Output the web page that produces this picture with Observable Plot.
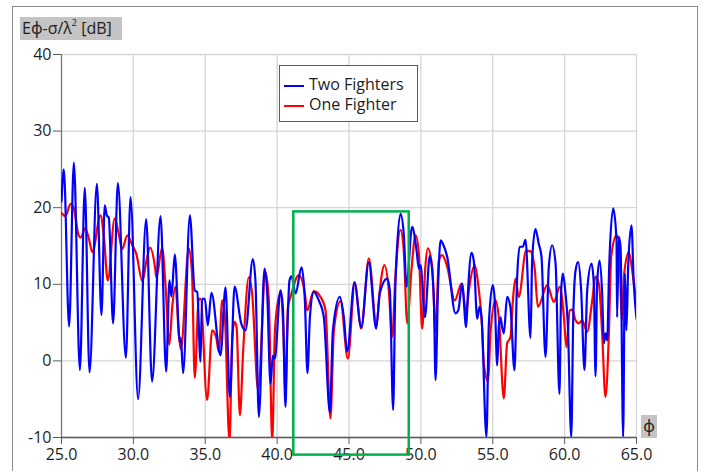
<!DOCTYPE html>
<html>
<head>
<meta charset="utf-8">
<script src="https://cdn.jsdelivr.net/npm/d3@7"></script>
<script src="https://cdn.jsdelivr.net/npm/@observablehq/plot@0.6"></script>
<style>
  html, body { margin: 0; padding: 0; background: #fff; }
  #wrap { position: relative; width: 705px; height: 471px; overflow: hidden; font-family: "Open Sans", "Noto Sans", sans-serif; color: #1e1e1e; }
  #frame { position: absolute; left: 12px; top: 6px; width: 686px; height: 490px; border: 1.5px solid #8a8a8a; box-sizing: border-box; pointer-events: none; }
  .axlab { position: absolute; background: #c4c4c4; font-size: 16px; line-height: 23px; color: #1e1e1e; white-space: nowrap; }
  #ylab { left: 20px; top: 17px; width: 102px; height: 23px; padding-left: 2px; box-sizing: border-box; }
  #ylab sup { font-size: 9px; vertical-align: 8px; line-height: 0; }
  #xlab { left: 641px; top: 415px; width: 16px; height: 23px; text-align: center; }
  #legend { position: absolute; left: 279px; top: 65px; width: 139px; height: 57px; border: 1px solid #5a5a5a; background: #fff; box-sizing: border-box; font-size: 16px; }
  .li { position: absolute; left: 0; height: 20px; line-height: 20px; white-space: nowrap; }
  .sw { position: absolute; left: 4px; top: 10px; width: 20px; height: 2px; }
  .lt { position: absolute; left: 29px; top: -1px; }
</style>
</head>
<body>
<div id="wrap">
  <div id="chart"></div>
  <div id="frame"></div>
  <div id="ylab" class="axlab"></div>
  <div id="xlab" class="axlab"></div>
  <div id="legend"></div>
</div>
<script>
// ---- data ----
const seriesNames = ["Two Fighters", "One Fighter"];
const seriesColors = ["#0000ff", "#ff0000"];
const yAxisTitle = "Eϕ-σ/λ";
const yAxisUnit = " [dB]";
const xAxisTitle = "ϕ";
const xTicks = [25, 30, 35, 40, 45, 50, 55, 60, 65];
const yTicks = [-10, 0, 10, 20, 30, 40];
const boxX = [41.16, 49.19];
const boxY = [-12.3, 19.45];

const blueX = [25.0,25.16,25.53,25.86,26.28,26.62,26.95,27.46,27.78,28.01,28.15,28.29,28.59,28.92,29.48,29.8,30.33,30.89,31.3,31.89,32.28,32.51,32.65,32.88,33.23,33.3,33.46,33.93,34.27,34.44,34.67,34.78,34.97,35.18,35.43,36.06,36.41,36.71,37.04,37.5,37.8,38.31,38.49,38.73,39.12,39.3,39.54,39.7,39.84,40.23,40.4,40.58,40.7,40.86,41.0,41.28,41.7,41.93,42.11,42.28,42.55,42.9,43.25,43.67,43.88,44.36,44.64,44.87,45.38,45.85,46.38,46.89,47.14,47.65,47.84,48.07,48.23,48.58,48.81,49.0,49.39,49.7,49.86,49.98,50.28,50.62,50.9,51.02,51.2,51.37,51.53,51.83,52.41,52.6,52.87,53.15,53.27,53.52,53.68,53.92,54.08,54.22,54.56,54.73,55.0,55.14,55.31,55.42,55.54,55.65,55.77,56.0,56.23,56.51,56.7,56.86,57.09,57.28,57.63,57.74,57.97,58.2,58.39,58.67,58.9,59.13,59.37,59.64,59.76,59.88,60.06,60.22,60.46,60.6,60.76,60.94,61.15,61.38,61.57,61.87,62.03,62.15,62.26,62.43,62.61,62.73,62.84,62.96,63.1,63.38,63.61,63.65,63.77,63.89,64.07,64.19,64.3,64.42,64.65,64.81,65.0];
const blueY = [20.8,25.0,4.5,25.9,-1.2,22.6,-1.5,23.1,6.0,20.3,19.0,18.7,4.9,23.2,0.4,21.4,-5.0,18.5,-2.7,18.9,-1.4,10.5,8.4,13.9,2.5,3.0,-1.6,19.0,9.2,9.0,-0.1,8.1,8.1,4.65,8.9,0.74,9.6,-4.7,9.7,4.9,4.0,13.3,10.5,-7.3,12.05,9.2,-3.0,0.7,0.3,9.2,7.0,-6.0,3.1,10.5,11.05,8.8,12.2,7.9,-1.6,5.7,9.0,7.9,5.7,-6.7,4.0,8.35,5.7,1.2,10.3,4.4,12.9,4.2,8.8,10.75,9.2,-6.4,10.1,19.2,16.6,9.7,17.5,14.4,12.05,12.5,5.7,13.7,8.35,-2.5,10.0,15.75,15.3,13.6,6.2,6.6,10.1,4.4,8.8,14.1,13.1,5.5,7.05,5.7,-9.9,4.9,9.9,7.9,-0.6,4.4,5.7,4.4,3.6,8.35,7.0,-1.2,11.0,14.9,14.9,15.8,3.0,13.1,17.2,15.3,13.6,0.52,12.3,15.1,12.7,-4.3,9.2,11.4,8.8,4.9,-9.9,5.7,11.8,12.9,9.2,-1.2,9.2,12.7,10.1,-2.0,10.1,13.1,8.8,2.3,3.6,2.7,12.3,19.9,15.75,5.7,16.2,14.9,-9.9,11.4,4.0,12.3,17.7,10.1,5.5];

const redX = [25.0,25.28,25.63,25.86,26.16,26.33,26.65,26.9,27.15,27.71,27.95,28.22,28.7,28.98,29.22,29.58,29.9,30.2,30.63,30.9,31.17,31.5,31.6,32.0,32.23,32.5,32.7,32.93,33.16,33.3,33.86,34.08,34.27,34.55,34.67,35.13,35.48,35.76,35.94,36.18,36.34,36.69,36.87,37.04,37.18,37.41,37.64,38.03,38.26,38.68,39.19,39.42,39.66,39.84,40.07,40.23,40.42,40.58,40.75,40.93,41.51,41.93,42.09,42.55,43.02,43.37,43.71,43.95,44.41,44.92,45.4,45.85,46.38,46.91,47.14,47.47,47.77,48.0,48.23,48.58,48.81,49.05,49.35,49.63,49.86,50.09,50.3,50.48,50.79,51.02,51.25,51.48,51.83,52.36,52.83,53.15,53.34,53.75,53.98,54.26,54.38,54.68,54.84,55.19,55.42,55.77,56.0,56.23,56.4,56.58,56.81,57.32,57.63,57.92,58.14,58.79,59.25,59.67,59.95,60.13,60.36,60.53,60.76,60.99,61.22,61.57,61.92,62.15,62.38,62.61,62.84,63.07,63.24,63.61,63.77,64.0,64.12,64.47,64.7,65.0];
const redY = [19.3,18.9,20.5,19.9,16.6,16.1,17.3,16.0,14.2,19.0,16.2,10.5,18.6,16.6,14.6,16.4,15.2,14.0,10.4,13.0,14.8,12.3,10.9,14.8,10.0,2.1,7.0,9.66,3.5,1.5,14.7,11.4,-2.2,8.1,8.1,-5.1,4.0,3.1,1.2,7.9,6.6,-10.5,2.7,5.1,4.4,-7.1,1.4,10.9,8.8,-3.8,11.6,7.9,-10.5,3.6,7.9,8.8,4.4,-4.3,7.05,8.35,11.2,8.8,6.6,9.1,8.35,6.6,-7.5,4.0,7.8,0.3,10.1,4.2,13.4,4.65,9.2,12.5,9.2,3.1,11.0,17.1,14.4,4.9,12.0,16.4,14.0,4.2,12.0,14.7,12.3,3.8,13.1,13.8,12.3,7.9,10.1,6.2,9.2,12.5,10.1,4.4,-0.4,-2.7,3.6,7.9,5.7,-4.9,2.3,3.1,7.9,10.75,8.35,14.4,14.3,12.0,7.05,9.9,7.7,9.66,5.7,1.8,6.6,6.7,5.3,4.9,5.3,3.8,7.9,11.0,10.1,3.6,-4.7,3.1,13.6,16.4,15.75,5.3,11.0,14.2,11.8,7.5];

// ---- build tables ----
const blue = blueX.map((x, i) => ({x, y: blueY[i]}));
const red = redX.map((x, i) => ({x, y: redY[i]}));
const box = [{x1: boxX[0], x2: boxX[1], y1: boxY[0], y2: boxY[1]}];

const chart = Plot.plot({
  width: 705,
  height: 471,
  marginLeft: 61,
  marginRight: 69,
  marginTop: 54,
  marginBottom: 34,
  style: {fontFamily: '"Open Sans", "Noto Sans", sans-serif', fontSize: "16px", color: "#1e1e1e", background: "transparent"},
  x: {domain: [25, 65]},
  y: {domain: [-10, 40]},
  marks: [
    Plot.gridX(xTicks, {stroke: "#d6d6d6", strokeOpacity: 1, strokeWidth: 1.3}),
    Plot.gridY(yTicks, {stroke: "#d6d6d6", strokeOpacity: 1, strokeWidth: 1.3}),
    Plot.axisX(xTicks, {tickFormat: d => d.toFixed(1), tickSize: 7, tickPadding: 4, label: null, stroke: "#5a5a5a"}),
    Plot.axisY(yTicks, {tickFormat: d => String(d), tickSize: 8, tickPadding: 2, label: null, stroke: "#5a5a5a"}),
    Plot.ruleY([-10], {stroke: "#5a5a5a", strokeWidth: 1.3}),
    Plot.ruleX([25], {stroke: "#7a7a7a", strokeWidth: 1.3}),
    Plot.line(red, {x: "x", y: "y", stroke: seriesColors[1], strokeWidth: 2.2, curve: "monotone-x", clip: true}),
    Plot.line(blue, {x: "x", y: "y", stroke: seriesColors[0], strokeWidth: 2.2, curve: "monotone-x", clip: true}),
    Plot.rect(box, {x1: "x1", x2: "x2", y1: "y1", y2: "y2", fill: "none", stroke: "#00b050", strokeWidth: 2.5})
  ]
});
document.getElementById("chart").appendChild(chart);

// axis title boxes
document.getElementById("ylab").innerHTML = yAxisTitle + "<sup>2</sup>" + yAxisUnit;
document.getElementById("xlab").textContent = xAxisTitle;

// legend
const legend = document.getElementById("legend");
seriesNames.forEach((name, i) => {
  const row = document.createElement("div");
  row.className = "li";
  row.style.top = (9 + i * 20) + "px";
  row.innerHTML = `<span class="sw" style="background:${seriesColors[i]}"></span><span class="lt"></span>`;
  row.querySelector(".lt").textContent = name;
  legend.appendChild(row);
});
</script>
</body>
</html>
